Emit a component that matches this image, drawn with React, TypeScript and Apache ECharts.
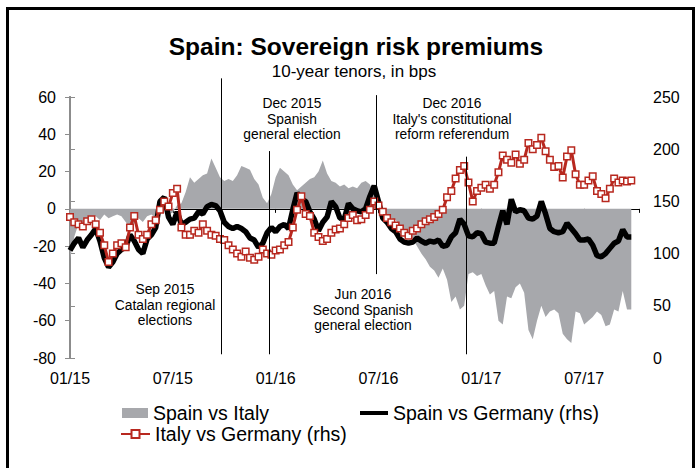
import React, { useEffect, useRef } from 'react';
import * as echarts from 'echarts';

const FONT = '"Liberation Sans", Arial, Helvetica, sans-serif';

const X_TICK_LABELS = ['01/15', '07/15', '01/16', '07/16', '01/17', '07/17'];
const MONTH_STEP = 0.25; // observations roughly weekly, x measured in months from Jan 2015

// Spain vs Italy, bps (lhs)
const SPAIN_VS_ITALY = [
  -27, -15, -8, -9, -7, -6, -4, -6, -3, -5, -4, -3, -4, -7, -10, -8, -5, -7, -4, -3,
  -5, -2, 1, -3, -2, 2, 3, 9, 17, 14, 16, 18, 19, 27, 22, 17, 15, 16, 15, 18,
  23, 22, 21, 16, 13, 6, 3, 8, 17, 22, 20, 18, 13, 10, 12, 14, 16, 17, 20, 26,
  19, 15, 14, 12, 13, 11, 12, 11, 14, 15, 13, 8, 2, -2, -4, -5, -6, -9, -11, -13,
  -16, -20, -24, -27, -31, -33, -37, -32, -38, -50, -47, -54, -52, -35, -34, -36, -35, -41, -46, -44,
  -60, -62, -47, -48, -42, -40, -45, -65, -70, -60, -52, -58, -55, -54, -56, -67, -70, -72, -55, -56,
  -62, -60, -58, -55, -57, -63, -62, -54, -55, -44, -54, -54,
];

// Spain vs Germany, bps (rhs)
const SPAIN_VS_GERMANY = [
  103, 110, 115, 106, 113, 118, 124, 112, 96, 87, 92, 100, 104, 106, 118, 112, 104, 100, 114, 118,
  125, 150, 154, 135, 128, 140, 128, 130, 133, 134, 140, 138, 145, 147, 146, 141, 130, 126, 124, 126,
  124, 121, 115, 113, 106, 110, 120, 125, 121, 126, 128, 124, 142, 158, 152, 150, 140, 133, 122, 130,
  135, 150, 145, 134, 133, 148, 143, 141, 140, 143, 155, 165, 150, 134, 130, 124, 121, 114, 111, 110,
  111, 115, 112, 110, 112, 111, 113, 107, 108, 116, 120, 133, 128, 117, 116, 120, 119, 111, 110, 110,
  126, 141, 128, 152, 140, 142, 141, 134, 133, 136, 150, 138, 124, 121, 120, 121, 129, 124, 119, 113,
  113, 114, 108, 98, 97, 100, 105, 110, 112, 123, 116, 116,
];

// Italy vs Germany, bps (rhs)
const ITALY_VS_GERMANY = [
  135, 130, 128, 126, 131, 133, 128, 120, 108, 92, 100, 108, 110, 106, 125, 136, 118, 114, 118, 128,
  132, 142, 150, 145, 158, 162, 125, 118, 118, 122, 120, 128, 122, 118, 117, 114, 113, 108, 104, 100,
  97, 102, 96, 94, 97, 104, 100, 99, 103, 104, 108, 111, 125, 142, 155, 138, 136, 120, 116, 112,
  114, 120, 123, 124, 128, 134, 137, 132, 133, 137, 142, 150, 146, 140, 134, 130, 127, 124, 120, 117,
  122, 124, 128, 131, 133, 135, 138, 142, 154, 160, 172, 180, 184, 168, 150, 160, 163, 166, 162, 166,
  178, 194, 190, 187, 195, 186, 190, 206, 200, 204, 211, 198, 190, 183, 184, 173, 193, 199, 176, 166,
  166, 170, 174, 160, 157, 153, 162, 172, 168, 170, 169, 170,
];

const EVENTS = [
  { x: 8.8, top: 70, bottom: -78, lines: ['Sep 2015', 'Catalan regional', 'elections'] },
  { x: 11.6, top: 31, bottom: -78, lines: ['Dec 2015', 'Spanish', 'general election'] },
  { x: 17.86, top: 61, bottom: -35, lines: ['Jun 2016', 'Second Spanish', 'general election'] },
  { x: 23.12, top: 28, bottom: -78, lines: ['Dec 2016', "Italy's constitutional", 'reform referendum'] },
];
const EVENT_LABEL_POS = [
  [165, 305],
  [292, 119],
  [363, 310],
  [452, 119],
];

const GRAY = '#a7a8ac';
const RED = '#b8281f';

const toPoints = (vals: number[]) => vals.map((v, i) => [i * MONTH_STEP, v]);

export default function App() {
  const ref = useRef<HTMLDivElement>(null);

  useEffect(() => {
    if (!ref.current) return;
    const chart = echarts.init(ref.current, undefined, { renderer: 'svg' });

    const xMin = 0;
    const xMax = 33.2;
    const tickFmt = (v: number) => {
      const i = Math.round(v / 6);
      return Math.abs(v - i * 6) < 1e-6 && X_TICK_LABELS[i] ? X_TICK_LABELS[i] : '';
    };
    const legendText = { fontSize: 19.5, color: '#000', fontFamily: FONT };

    const option: any = {
      animation: false,
      backgroundColor: '#ffffff',
      textStyle: { fontFamily: FONT },
      grid: { left: 70, right: 61, top: 97, bottom: 110, containLabel: false },
      xAxis: [
        {
          type: 'value',
          min: xMin,
          max: xMax,
          interval: 6,
          position: 'bottom',
          axisLine: { show: true, onZero: true, onZeroAxisIndex: 0, lineStyle: { color: '#000', width: 1 } },
          axisTick: { show: true, inside: false, length: 4, lineStyle: { color: '#000', width: 1 } },
          axisLabel: { show: false },
          splitLine: { show: false },
        },
        {
          type: 'value',
          min: xMin,
          max: xMax,
          interval: 6,
          position: 'bottom',
          axisLine: { show: false, onZero: false },
          axisTick: { show: false },
          axisLabel: { show: true, margin: 12, fontSize: 16, color: '#000', fontFamily: FONT, formatter: tickFmt },
          splitLine: { show: false },
        },
      ],
      yAxis: [
        {
          type: 'value',
          position: 'left',
          min: -80,
          max: 60,
          interval: 20,
          axisLine: { show: true, lineStyle: { color: '#8c8c8c', width: 2 } },
          axisTick: { show: true, length: 5, lineStyle: { color: '#8c8c8c', width: 1 } },
          axisLabel: { margin: 14, fontSize: 16, color: '#000', fontFamily: FONT },
          splitLine: { show: false },
        },
        {
          type: 'value',
          position: 'right',
          min: 0,
          max: 250,
          interval: 50,
          axisLine: { show: true, lineStyle: { color: '#8c8c8c', width: 2 } },
          axisTick: { show: true, length: 5, lineStyle: { color: '#8c8c8c', width: 1 } },
          axisLabel: { margin: 14, fontSize: 16, color: '#000', fontFamily: FONT },
          splitLine: { show: false },
        },
      ],
      legend: [
        {
          left: 122,
          top: 403,
          padding: 0,
          itemWidth: 26,
          itemHeight: 10,
          selectedMode: false,
          textStyle: legendText,
          data: [{ name: 'Spain vs Italy', icon: 'rect', itemStyle: { color: GRAY, borderWidth: 0 } }],
        },
        {
          left: 360,
          top: 403,
          padding: 0,
          itemWidth: 28,
          itemHeight: 4,
          selectedMode: false,
          textStyle: legendText,
          data: [{ name: 'Spain vs Germany (rhs)', icon: 'rect', itemStyle: { color: '#000', borderWidth: 0 } }],
        },
        {
          left: 120,
          top: 424,
          padding: 0,
          itemWidth: 29,
          itemHeight: 10,
          selectedMode: false,
          textStyle: legendText,
          data: [{ name: 'Italy vs Germany (rhs)' }],
        },
      ],
      series: [
        {
          name: 'Spain vs Italy',
          type: 'line',
          xAxisIndex: 0,
          yAxisIndex: 0,
          data: toPoints(SPAIN_VS_ITALY),
          symbol: 'none',
          color: GRAY,
          lineStyle: { width: 0, color: GRAY },
          areaStyle: { color: GRAY, opacity: 1 },
          z: 1,
        },
        {
          name: 'Spain vs Germany (rhs)',
          type: 'line',
          xAxisIndex: 0,
          yAxisIndex: 1,
          data: toPoints(SPAIN_VS_GERMANY),
          symbol: 'none',
          color: '#000',
          lineStyle: { width: 5.5, color: '#000' },
          z: 3,
        },
        {
          name: 'Italy vs Germany (rhs)',
          type: 'line',
          xAxisIndex: 0,
          yAxisIndex: 1,
          data: toPoints(ITALY_VS_GERMANY),
          symbol: 'rect',
          symbolSize: 6.5,
          showAllSymbol: true,
          color: RED,
          lineStyle: { width: 3, color: RED },
          itemStyle: { color: '#fff', borderColor: RED, borderWidth: 1.5 },
          z: 4,
        },
      ],
    };

    chart.setOption(option);

    const graphics: any[] = [
      {
        type: 'rect',
        silent: true,
        shape: { x: 7.5, y: 8.5, width: 686, height: 480 },
        style: { fill: 'none', stroke: '#000', lineWidth: 3 },
        z: 100,
      },
      {
        type: 'text',
        x: 356,
        y: 46,
        style: {
          text: 'Spain: Sovereign risk premiums',
          fontSize: 24.5,
          fontWeight: 'bold',
          fontFamily: FONT,
          fill: '#000',
          align: 'center',
          verticalAlign: 'middle',
        },
      },
      {
        type: 'text',
        x: 354,
        y: 71,
        style: {
          text: '10-year tenors, in bps',
          fontSize: 17,
          fontFamily: FONT,
          fill: '#000',
          align: 'center',
          verticalAlign: 'middle',
        },
      },
    ];

    EVENTS.forEach((ev, i) => {
      const p1 = chart.convertToPixel({ xAxisIndex: 0, yAxisIndex: 0 } as any, [ev.x, ev.top]) as number[];
      const p2 = chart.convertToPixel({ xAxisIndex: 0, yAxisIndex: 0 } as any, [ev.x, ev.bottom]) as number[];
      const xPix = Math.round(p1[0]) + 0.5;
      graphics.push({
        type: 'line',
        silent: true,
        shape: { x1: xPix, y1: p1[1], x2: xPix, y2: p2[1] },
        style: { stroke: '#000', lineWidth: 1 },
        z: 50,
      });
      graphics.push({
        type: 'text',
        x: EVENT_LABEL_POS[i][0],
        y: EVENT_LABEL_POS[i][1],
        style: {
          text: ev.lines.join('\n'),
          fontSize: 13.8,
          lineHeight: 15.8,
          fontFamily: FONT,
          fill: '#000',
          align: 'center',
          verticalAlign: 'middle',
        },
        z: 50,
      });
    });

    chart.setOption({ graphic: graphics });

    return () => {
      chart.dispose();
    };
  }, []);

  return (
    <div
      ref={ref}
      style={{ position: 'fixed', left: 0, top: 0, width: 700, height: 468, background: '#fff' }}
    />
  );
}
